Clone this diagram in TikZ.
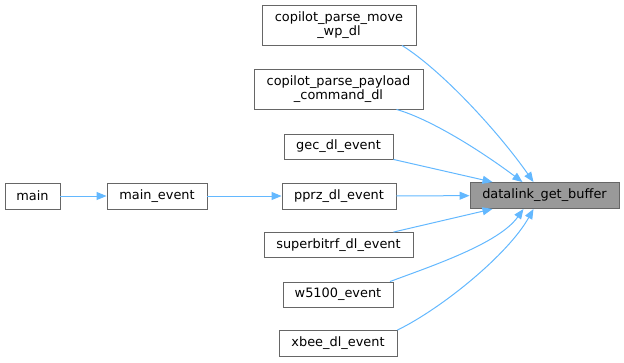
\documentclass[tikz,border=0pt]{standalone}
\usepackage{fontspec}
\setmainfont{DejaVu Sans}
\usetikzlibrary{arrows.meta}
\definecolor{edgec}{HTML}{63B8FF}
\definecolor{boxc}{HTML}{666666}
\definecolor{hl}{HTML}{999999}
\begin{document}
\begin{tikzpicture}[x=1pt,y=1pt,
  fn/.style={draw=boxc, line width=0.9pt, fill=white, inner sep=0pt, align=center,
     font=\fontsize{12.9}{14}\selectfont, minimum height=26pt},
  cl/.style={draw=edgec, line width=1pt, -{Triangle[length=10pt,width=8pt]}}]
\useasboundingbox (0,0) rectangle (624,-362);
\node[fn, minimum width=154pt, minimum height=40pt] (cm) at (339,-25) {copilot\_parse\_move\\\_wp\_dl};
\node[fn, minimum width=169pt, minimum height=40pt] (cp) at (338.5,-89) {copilot\_parse\_payload\\\_command\_dl};
\node[fn, minimum width=109pt, minimum height=25pt] (gec) at (338.5,-146.5) {gec\_dl\_event};
\node[fn, minimum width=114pt] (pprz) at (339,-196) {pprz\_dl\_event};
\node[fn, minimum width=149pt, minimum height=25pt] (sb) at (338.5,-245) {superbitrf\_dl\_event};
\node[fn, minimum width=110pt, minimum height=25pt] (w5) at (338,-294.5) {w5100\_event};
\node[fn, minimum width=118pt] (xb) at (338,-343.5) {xbee\_dl\_event};
\node[fn, minimum width=55pt] (main) at (32.5,-196) {main};
\node[fn, minimum width=100pt] (me) at (157,-196) {main\_event};
\node[fn, minimum width=149pt, fill=hl] (dl) at (544.5,-195.5) {datalink\_get\_buffer};

\draw[cl] (main) -- (me);
\draw[cl] (me) -- (pprz);
\draw[cl] (pprz) -- (dl);
\draw[cl] ([xshift=63pt]cm.south) .. controls +(40,-25) and +(-35,50) .. ([xshift=-11pt]dl.north);
\draw[cl] ([xshift=58pt]cp.south) .. controls +(35,-10) and +(-40,30) .. ([xshift=-22pt]dl.north);
\draw[cl] (gec.south east) -- ([xshift=-52pt]dl.north);
\draw[cl] ([xshift=55pt]sb.north) -- ([xshift=-52pt]dl.south);
\draw[cl] ([xshift=52pt]w5.north) .. controls +(40,15) and +(-25,-35) .. ([xshift=-21pt]dl.south);
\draw[cl] (xb.north east) .. controls +(45,22) and +(-25,-45) .. ([xshift=-11pt]dl.south);
\end{tikzpicture}
\end{document}
